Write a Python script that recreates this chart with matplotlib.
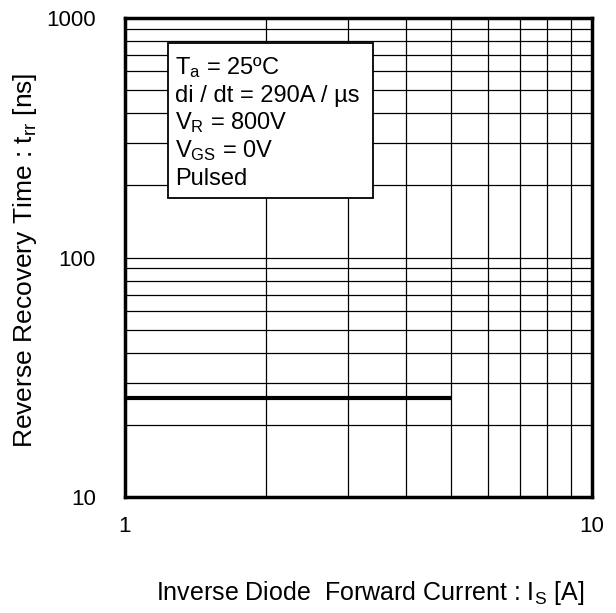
import matplotlib
matplotlib.use("Agg")
import matplotlib.pyplot as plt
from matplotlib.patches import Rectangle
from matplotlib.ticker import LogLocator, NullFormatter, FixedLocator, FixedFormatter

plt.rcParams["font.family"] = "Liberation Sans"
plt.rcParams["mathtext.fontset"] = "custom"
plt.rcParams["mathtext.rm"] = "Liberation Sans"
plt.rcParams["mathtext.it"] = "Liberation Sans"
plt.rcParams["mathtext.default"] = "rm"

# data
current = [1, 5]          # Is [A]
trr = [26, 26]            # trr [ns]
x_ticks = [1, 10]
x_tick_labels = ["1", "10"]
y_ticks = [10, 100, 1000]
y_tick_labels = ["10", "100", "1000"]
conditions = ["T$_a$ = 25ºC", "di / dt = 290A / µs", "V$_R$ = 800V",
              "V$_{GS}$ = 0V", "Pulsed"]

W, H = 616, 613
L, R, T, B = 125, 592, 18, 497   # axes box in pixels
fig = plt.figure(figsize=(W / 100, H / 100), dpi=100)
ax = fig.add_axes([L / W, (H - B) / H, (R - L) / W, (B - T) / H])
ax.set_xscale("log")
ax.set_yscale("log")
ax.set_xlim(1, 10)
ax.set_ylim(10, 1000)

ax.plot(current, trr, color="black", lw=3, solid_capstyle="butt", zorder=3)

ax.xaxis.set_major_locator(FixedLocator(x_ticks))
ax.xaxis.set_major_formatter(FixedFormatter(x_tick_labels))
ax.yaxis.set_major_locator(FixedLocator(y_ticks))
ax.yaxis.set_major_formatter(FixedFormatter(y_tick_labels))
ax.xaxis.set_minor_locator(LogLocator(base=10, subs=range(2, 10)))
ax.yaxis.set_minor_locator(LogLocator(base=10, subs=range(2, 10)))
ax.xaxis.set_minor_formatter(NullFormatter())
ax.yaxis.set_minor_formatter(NullFormatter())
ax.grid(True, which="both", color="black", lw=0.9)
ax.tick_params(which="both", length=0, labelsize=16)
ax.tick_params(axis="y", pad=21)
ax.tick_params(axis="x", pad=14)
for s in ax.spines.values():
    s.set_linewidth(2.5)
    s.set_zorder(4)

# conditions box
def ax_x(px):
    return (px - L) / (R - L)

def ax_y(py):
    return (B - py) / (B - T)

ax.add_patch(Rectangle((ax_x(168), ax_y(198)), ax_x(373) - ax_x(168),
                       ax_y(43) - ax_y(198), transform=ax.transAxes,
                       fc="white", ec="black", lw=1.3, zorder=5))
for i, line in enumerate(conditions):
    ax.text(ax_x(175), ax_y(74 + i * 27.7), line, transform=ax.transAxes,
            fontsize=17, ha="left", va="baseline", zorder=6)

fig.text(32 / W, 1 - 260 / H, "Reverse Recovery Time : t$_{rr}$ [ns]",
         rotation=90, rotation_mode="anchor", ha="center", va="baseline",
         fontsize=19)
fig.text(370 / W, 1 - 600 / H, "Inverse Diode  Forward Current : I$_S$ [A]",
         ha="center", va="baseline", fontsize=18)

fig.savefig("out.png", dpi=100)
